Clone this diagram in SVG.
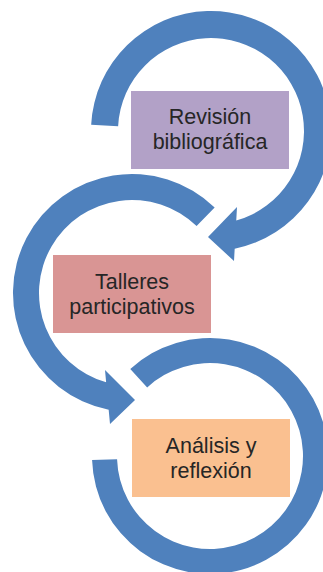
<svg xmlns="http://www.w3.org/2000/svg" width="323" height="572" viewBox="0 0 323 572">
<style>
.arc{fill:#4F81BD;stroke:none}
.lbl{font-family:"Liberation Sans","Arial",sans-serif;font-size:21.5px;fill:#262626;text-anchor:middle}
</style>
<rect width="323" height="572" fill="#fff"/>
<g id="connectors">
<path id="arrow1" class="arc" d="M91.16,124.72 A120,120 0 1 1 234.69,248.64 L234,261 L208,237 L237,207 L236.25,220.5 A93,93 0 1 0 118.13,126.13 Z"/>
<path id="arrow2" class="arc" d="M214.66,207.4 A119,119 0 1 0 108.67,409.69 L110,424 L135,400 L105,370 L106.14,382.33 A93,93 0 1 1 196.6,226.1 Z"/>
<path id="arrow3" class="arc" d="M130.28,369 A118,118 0 1 1 92.07,460.12 L117.06,459.25 A93,93 0 1 0 147.17,387.43 Z"/>
</g>
<g id="node1">
<rect x="131" y="91" width="158" height="78" fill="#B2A1C7"/>
<text class="lbl" x="210" y="124">Revisión</text>
<text class="lbl" x="210" y="149">bibliográfica</text>
</g>
<g id="node2">
<rect x="53" y="255" width="158" height="78" fill="#D99594"/>
<text class="lbl" x="132" y="289">Talleres</text>
<text class="lbl" x="132" y="314">participativos</text>
</g>
<g id="node3">
<rect x="132" y="419" width="158" height="78" fill="#FAC090"/>
<text class="lbl" x="211" y="453">Análisis y</text>
<text class="lbl" x="211" y="478">reflexión</text>
</g>
</svg>
